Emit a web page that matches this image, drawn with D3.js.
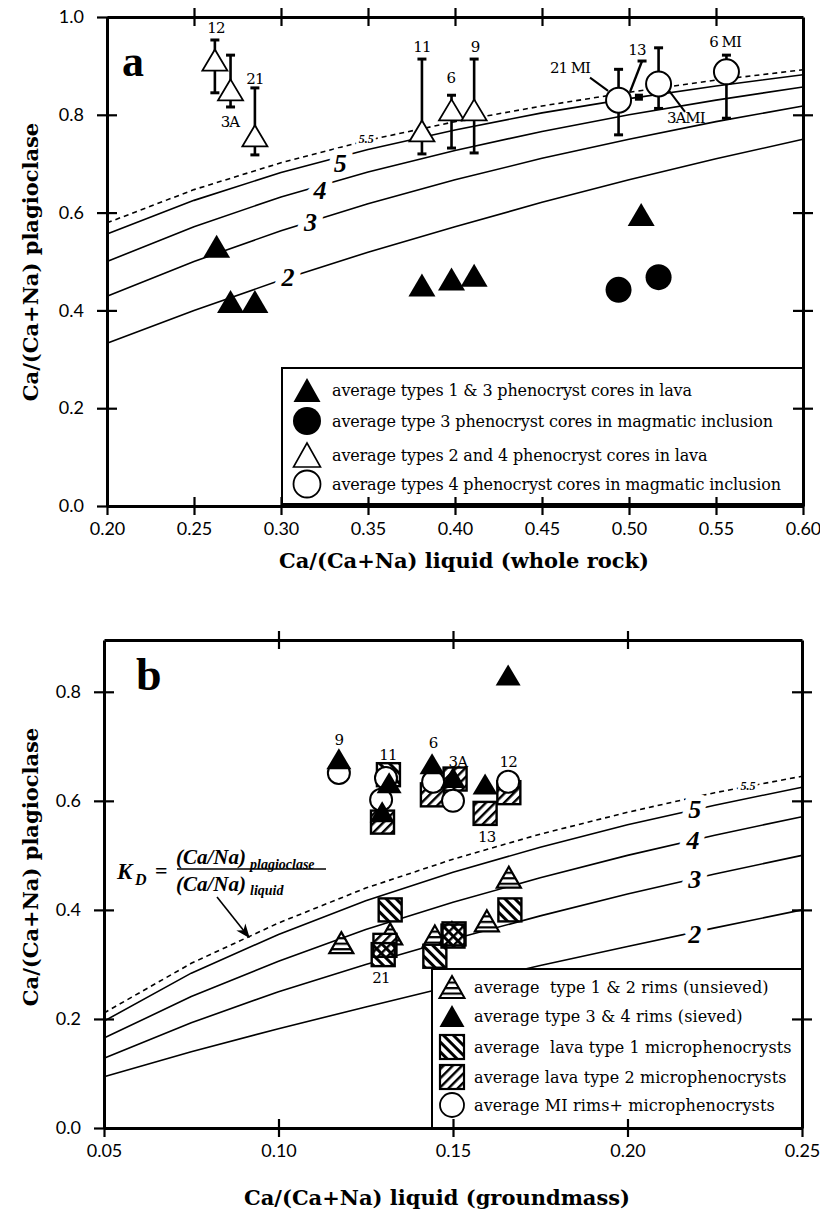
<!DOCTYPE html>
<html>
<head>
<meta charset="utf-8">
<script src="https://cdn.jsdelivr.net/npm/d3@7"></script>
<style>
  body { margin: 0; background: #fff; }
  svg { display: block; }
  .tick text { font-family: Lato, "Noto Sans", sans-serif; font-size: 18px; fill: #000; }
  .serif { font-family: "Liberation Serif", "DejaVu Serif", serif; }
  .dserif { font-family: "DejaVu Serif", "Liberation Serif", serif; }
</style>
</head>
<body>
<svg id="chart" width="820" height="1215"></svg>
<script>
// ---------------- Panel a : phenocryst cores vs whole rock ----------------
const curveXA = [0.20, 0.25, 0.30, 0.35, 0.40, 0.45, 0.50, 0.55, 0.60];
const kdA2  = [0.333, 0.400, 0.462, 0.519, 0.571, 0.621, 0.667, 0.710, 0.750];
const kdA3  = [0.429, 0.500, 0.563, 0.618, 0.667, 0.711, 0.750, 0.786, 0.818];
const kdA4  = [0.500, 0.571, 0.632, 0.683, 0.727, 0.766, 0.800, 0.830, 0.857];
const kdA5  = [0.556, 0.625, 0.682, 0.729, 0.769, 0.804, 0.833, 0.859, 0.882];
const kdA55 = [0.579, 0.647, 0.702, 0.748, 0.786, 0.818, 0.846, 0.871, 0.892];
const kdNames = ["2", "3", "4", "5", "5.5"];
const kdLabelAX = [0.304, 0.317, 0.3224, 0.334, 0.349];
const kdLabelAY = [0.468, 0.579, 0.646, 0.701, 0.751];

const coreLavaX = [0.263, 0.271, 0.285, 0.381, 0.398, 0.411, 0.507];
const coreLavaY = [0.531, 0.418, 0.418, 0.452, 0.464, 0.472, 0.596];
const coreMiX = [0.494, 0.517];
const coreMiY = [0.442, 0.468];

const core24Names = ["12", "3A", "21", "11", "6", "9"];
const core24X  = [0.262, 0.271, 0.285, 0.381, 0.398, 0.411];
const core24Y  = [0.912, 0.851, 0.757, 0.767, 0.810, 0.810];
const core24Hi = [0.953, 0.922, 0.855, 0.914, 0.840, 0.914];
const core24Lo = [0.845, 0.816, 0.718, 0.720, 0.732, 0.722];
const core24LabelX = [0.2626, 0.2707, 0.285, 0.381, 0.3977, 0.4115];
const core24LabelY = [0.967, 0.775, 0.863, 0.928, 0.865, 0.928];

const core4MiNames = ["21 MI", "3AMI", "6 MI"];
const core4MiX  = [0.494, 0.517, 0.556];
const core4MiY  = [0.830, 0.863, 0.888];
const core4MiHi = [0.893, 0.937, 0.922];
const core4MiLo = [0.759, 0.813, 0.793];
const core4MiLabelX = [0.4776, 0.5218, 0.5552];
const core4MiLabelY = [0.885, 0.783, 0.939];

// sample 13: small marker with its bar
const s13X = [0.5057, 0.5006, 0.5075];
const s13Y = [0.836, 0.847, 0.910];

const xTicksA = [0.20, 0.25, 0.30, 0.35, 0.40, 0.45, 0.50, 0.55, 0.60];
const yTicksA = [0.0, 0.2, 0.4, 0.6, 0.8, 1.0];

const legendA = [
  "average types 1 & 3 phenocryst cores in lava",
  "average type 3 phenocryst cores in magmatic inclusion",
  "average types 2 and 4 phenocryst cores in lava",
  "average types 4 phenocryst cores in magmatic inclusion"
];

// ---------------- Panel b : rims and microphenocrysts vs groundmass ----------------
const curveXB = [0.05, 0.075, 0.10, 0.125, 0.15, 0.175, 0.20, 0.225, 0.25];
const kdB2  = [0.094, 0.140, 0.182, 0.222, 0.261, 0.298, 0.333, 0.367, 0.400];
const kdB3  = [0.128, 0.193, 0.250, 0.300, 0.346, 0.389, 0.429, 0.466, 0.500];
const kdB4  = [0.165, 0.241, 0.306, 0.364, 0.414, 0.459, 0.500, 0.537, 0.571];
const kdB5  = [0.196, 0.284, 0.355, 0.417, 0.469, 0.515, 0.556, 0.592, 0.625];
const kdB55 = [0.211, 0.302, 0.376, 0.440, 0.493, 0.539, 0.579, 0.615, 0.645];
const kdLabelBX = [0.2193, 0.2193, 0.2188, 0.2193, 0.2345];
const kdLabelBY = [0.354, 0.455, 0.528, 0.5835, 0.6275];

const rimUnsievedX = [0.118, 0.132, 0.1448, 0.1497, 0.1597, 0.166];
const rimUnsievedY = [0.340, 0.356, 0.352, 0.358, 0.380, 0.460];
const rimSievedX = [0.1173, 0.1317, 0.1297, 0.144, 0.1592, 0.1658, 0.1500];
const rimSievedY = [0.677, 0.633, 0.580, 0.668, 0.631, 0.831, 0.643];
const micro1X = [0.1315, 0.132, 0.130, 0.1448, 0.150, 0.1663];
const micro1Y = [0.648, 0.400, 0.318, 0.315, 0.352, 0.400];
const micro2X = [0.1298, 0.1441, 0.1506, 0.166, 0.1592, 0.1305, 0.1503];
const micro2Y = [0.561, 0.611, 0.640, 0.615, 0.577, 0.335, 0.356];
const miRimX = [0.1173, 0.1308, 0.1294, 0.1443, 0.150, 0.1658];
const miRimY = [0.651, 0.642, 0.602, 0.635, 0.600, 0.635];

const sampleNamesB = ["9", "11", "6", "3A", "12", "13", "21"];
const sampleLabelBX = [0.1173, 0.1314, 0.1443, 0.1514, 0.1658, 0.1597, 0.1294];
const sampleLabelBY = [0.703, 0.675, 0.697, 0.662, 0.662, 0.525, 0.266];

const xTicksB = [0.05, 0.10, 0.15, 0.20, 0.25];
const yTicksB = [0.0, 0.2, 0.4, 0.6, 0.8];

const legendB = [
  "average  type 1 & 2 rims (unsieved)",
  "average type 3 & 4 rims (sieved)",
  "average  lava type 1 microphenocrysts",
  "average lava type 2 microphenocrysts",
  "average MI rims+ microphenocrysts"
];

// ---------------- scales ----------------
const xA = d3.scaleLinear().domain([0.2, 0.6]).range([107, 803]);
const yA = d3.scaleLinear().domain([0, 1]).range([506, 17]);
const xB = d3.scaleLinear().domain([0.05, 0.25]).range([104, 802]);
const yB = d3.scaleLinear().domain([0, 0.895]).range([1128, 640]);

const svg = d3.select("#chart");
svg.append("rect").attr("width", 820).attr("height", 1215).attr("fill", "#fff");

// ---------------- fill patterns ----------------
const defs = svg.append("defs");
function stripePattern(id, angle, gap, width) {
  const p = defs.append("pattern").attr("id", id)
    .attr("patternUnits", "userSpaceOnUse")
    .attr("width", gap).attr("height", gap)
    .attr("patternTransform", `rotate(${angle})`);
  p.append("rect").attr("x", 0).attr("y", 0).attr("width", width).attr("height", gap).attr("fill", "#000");
}
stripePattern("hatchBack", -45, 7, 3);   // "\\\\" stripes
stripePattern("hatchFwd", 45, 6.5, 2.4); // "////" stripes
const hp = defs.append("pattern").attr("id", "hstripes")
  .attr("patternUnits", "userSpaceOnUse").attr("width", 10).attr("height", 5.5);
hp.append("rect").attr("width", 10).attr("height", 5.5).attr("fill", "#fff");
hp.append("rect").attr("y", 0).attr("width", 10).attr("height", 2.2).attr("fill", "#000");
defs.append("marker").attr("id", "arrowHead")
  .attr("viewBox", "0 0 10 10").attr("refX", 8).attr("refY", 5)
  .attr("markerWidth", 9).attr("markerHeight", 9).attr("orient", "auto")
  .append("path").attr("d", "M0,1L10,5L0,9L3,5Z").attr("fill", "#000");

// ---------------- helpers ----------------
const tri = (w, h) => `M0,${-h / 2}L${w / 2},${h / 2}L${-w / 2},${h / 2}Z`;

function drawFrame(g, x, y, xTicks, yTicks, innerX, innerY) {
  const [xl, xr] = x.range();
  const [yb, yt] = y.range();
  const fmtX = d3.format(".2f"), fmtY = d3.format(".1f");

  const bottom = g.append("g").attr("transform", `translate(0,${yb})`)
    .call(d3.axisBottom(x).tickValues(xTicks).tickFormat(fmtX).tickSizeInner(9).tickSizeOuter(0).tickPadding(7));
  bottom.selectAll(".tick line").attr("y1", -9);

  const top = g.append("g").attr("transform", `translate(0,${yt})`)
    .call(d3.axisTop(x).tickValues(innerX).tickFormat("").tickSizeInner(9).tickSizeOuter(0));
  top.selectAll(".tick line").attr("y1", 9);

  const left = g.append("g").attr("transform", `translate(${xl},0)`)
    .call(d3.axisLeft(y).tickValues(yTicks).tickFormat(fmtY).tickSizeInner(10).tickSizeOuter(0).tickPadding(13));
  left.selectAll(".tick line").attr("x1", 10);

  const right = g.append("g").attr("transform", `translate(${xr},0)`)
    .call(d3.axisRight(y).tickValues(innerY).tickFormat("").tickSizeInner(10).tickSizeOuter(0));
  right.selectAll(".tick line").attr("x1", -10);

  [bottom, top, left, right].forEach(a => {
    a.select(".domain").attr("stroke", "#000").attr("stroke-width", 3);
    a.selectAll(".tick line").attr("stroke", "#000").attr("stroke-width", 2.2);
  });
}

function drawCurves(g, x, y, xs, series, labX, labY) {
  const line = d3.line().x((d, i) => x(xs[i])).y(d => y(d));
  series.forEach((s, k) => {
    g.append("path").attr("d", line(s)).attr("fill", "none").attr("stroke", "#000")
      .attr("stroke-width", 1.6).attr("stroke-dasharray", k === 4 ? "5,4" : null);
  });
  kdNames.forEach((n, k) => {
    g.append("text").attr("class", "serif")
      .attr("x", x(labX[k])).attr("y", y(labY[k]))
      .attr("text-anchor", "middle").attr("dominant-baseline", "central")
      .attr("font-size", k === 4 ? 12 : 26).attr("font-weight", "bold").attr("font-style", "italic")
      .attr("stroke", "#fff").attr("stroke-width", k === 4 ? 6 : 13).attr("paint-order", "stroke")
      .attr("stroke-linejoin", "round")
      .text(n);
  });
}

function errorBar(g, px, pyHi, pyLo) {
  g.append("line").attr("x1", px).attr("x2", px).attr("y1", pyHi).attr("y2", pyLo)
    .attr("stroke", "#000").attr("stroke-width", 2.6);
  [pyHi, pyLo].forEach(py => g.append("line")
    .attr("x1", px - 4.5).attr("x2", px + 4.5).attr("y1", py).attr("y2", py)
    .attr("stroke", "#000").attr("stroke-width", 3));
}

// ================= Panel a =================
const ga = svg.append("g");
drawCurves(ga, xA, yA, curveXA, [kdA2, kdA3, kdA4, kdA5, kdA55], kdLabelAX, kdLabelAY);

// error bars, then open markers on top
core24X.forEach((v, i) => errorBar(ga, xA(v), yA(core24Hi[i]), yA(core24Lo[i])));
core4MiX.forEach((v, i) => errorBar(ga, xA(v), yA(core4MiHi[i]), yA(core4MiLo[i])));

// sample 13 bar and marker
ga.append("line").attr("x1", xA(s13X[1])).attr("y1", yA(s13Y[1]))
  .attr("x2", xA(s13X[2])).attr("y2", yA(s13Y[2])).attr("stroke", "#000").attr("stroke-width", 2.4);
ga.append("line").attr("x1", xA(s13X[2]) - 4.5).attr("x2", xA(s13X[2]) + 4.5)
  .attr("y1", yA(s13Y[2])).attr("y2", yA(s13Y[2])).attr("stroke", "#000").attr("stroke-width", 3);
ga.append("rect").attr("x", xA(s13X[0]) - 4).attr("y", yA(s13Y[0]) - 3.5)
  .attr("width", 8).attr("height", 7).attr("fill", "#000");

// leader lines for MI labels
const leaders = [[0.4776, 0.876, 0.488, 0.849], [0.5218, 0.855, 0.5322, 0.806]];
leaders.forEach(l => ga.append("line")
  .attr("x1", xA(l[0])).attr("y1", yA(l[1])).attr("x2", xA(l[2])).attr("y2", yA(l[3]))
  .attr("stroke", "#000").attr("stroke-width", 2));

ga.selectAll(".ftri").data(coreLavaX).join("path")
  .attr("transform", (d, i) => `translate(${xA(d)},${yA(coreLavaY[i])})`)
  .attr("d", tri(27, 23)).attr("fill", "#000");
ga.selectAll(".fcir").data(coreMiX).join("circle")
  .attr("cx", d => xA(d)).attr("cy", (d, i) => yA(coreMiY[i])).attr("r", 13).attr("fill", "#000");
ga.selectAll(".otri").data(core24X).join("path")
  .attr("transform", (d, i) => `translate(${xA(d)},${yA(core24Y[i])})`)
  .attr("d", tri(25, 21)).attr("fill", "#fff").attr("stroke", "#000").attr("stroke-width", 1.8)
  .attr("stroke-linejoin", "miter");
ga.selectAll(".ocir").data(core4MiX).join("circle")
  .attr("cx", d => xA(d)).attr("cy", (d, i) => yA(core4MiY[i])).attr("r", 12.5)
  .attr("fill", "#fff").attr("stroke", "#000").attr("stroke-width", 2);

// sample labels
core24Names.forEach((n, i) => ga.append("text").attr("class", "dserif")
  .attr("x", xA(core24LabelX[i])).attr("y", yA(core24LabelY[i]))
  .attr("text-anchor", "middle").attr("font-size", 15).attr("letter-spacing", -0.8).text(n));
const miAnchor = ["end", "start", "middle"];
core4MiNames.forEach((n, i) => ga.append("text").attr("class", "dserif")
  .attr("x", xA(core4MiLabelX[i])).attr("y", yA(core4MiLabelY[i]))
  .attr("text-anchor", miAnchor[i]).attr("font-size", 15).attr("letter-spacing", -1).text(n));
ga.append("text").attr("class", "dserif").attr("x", xA(0.5046)).attr("y", yA(0.922))
  .attr("text-anchor", "middle").attr("font-size", 15).attr("letter-spacing", -0.8).text("13");

// panel letter
ga.append("text").attr("class", "serif").attr("x", 122).attr("y", 76)
  .attr("font-size", 44).attr("font-weight", "bold").text("a");

// legend a
const la = ga.append("g");
la.append("rect").attr("x", 282).attr("y", 368).attr("width", 521).attr("height", 136)
  .attr("fill", "#fff").attr("stroke", "#000").attr("stroke-width", 2);
const rowsA = [390, 421, 455, 484];
la.append("path").attr("transform", `translate(307,${rowsA[0]})`).attr("d", tri(27, 24)).attr("fill", "#000");
la.append("circle").attr("cx", 307).attr("cy", rowsA[1]).attr("r", 14).attr("fill", "#000");
la.append("path").attr("transform", `translate(307,${rowsA[2]})`).attr("d", tri(27, 24))
  .attr("fill", "#fff").attr("stroke", "#000").attr("stroke-width", 1.6);
la.append("circle").attr("cx", 307).attr("cy", rowsA[3]).attr("r", 13.5)
  .attr("fill", "#fff").attr("stroke", "#000").attr("stroke-width", 1.8);
legendA.forEach((t, i) => la.append("text").attr("class", "dserif")
  .attr("x", 332).attr("y", rowsA[i]).attr("dominant-baseline", "central")
  .attr("font-size", 16).attr("letter-spacing", -0.15).text(t));

drawFrame(ga, xA, yA, xTicksA, yTicksA, [0.25, 0.30, 0.35, 0.40, 0.45, 0.50, 0.55], [0.2, 0.4, 0.6, 0.8]);

ga.append("text").attr("class", "dserif").attr("x", 464).attr("y", 568)
  .attr("text-anchor", "middle").attr("font-size", 21).attr("font-weight", "bold")
  .text("Ca/(Ca+Na) liquid (whole rock)");
ga.append("text").attr("class", "dserif").attr("transform", "translate(38,262) rotate(-90)")
  .attr("text-anchor", "middle").attr("font-size", 21).attr("font-weight", "bold")
  .text("Ca/(Ca+Na) plagioclase");

// ================= Panel b =================
const gb = svg.append("g");
drawCurves(gb, xB, yB, curveXB, [kdB2, kdB3, kdB4, kdB5, kdB55], kdLabelBX, kdLabelBY);

// unsieved rims: horizontally striped triangles
gb.selectAll(".stri").data(rimUnsievedX).join("path")
  .attr("transform", (d, i) => `translate(${xB(d)},${yB(rimUnsievedY[i])})`)
  .attr("d", tri(24, 21)).attr("fill", "url(#hstripes)").attr("stroke", "#000").attr("stroke-width", 2.2);

// microphenocryst squares: white underlay, then hatching
const sq = 23;
const allSqX = micro1X.concat(micro2X), allSqY = micro1Y.concat(micro2Y);
gb.selectAll(".squnder").data(allSqX).join("rect")
  .attr("x", d => xB(d) - sq / 2).attr("y", (d, i) => yB(allSqY[i]) - sq / 2)
  .attr("width", sq).attr("height", sq).attr("fill", "#fff");
gb.selectAll(".sq1").data(micro1X).join("rect")
  .attr("x", d => xB(d) - sq / 2).attr("y", (d, i) => yB(micro1Y[i]) - sq / 2)
  .attr("width", sq).attr("height", sq).attr("fill", "url(#hatchBack)")
  .attr("stroke", "#000").attr("stroke-width", 2.4);
gb.selectAll(".sq2").data(micro2X).join("rect")
  .attr("x", d => xB(d) - sq / 2).attr("y", (d, i) => yB(micro2Y[i]) - sq / 2)
  .attr("width", sq).attr("height", sq).attr("fill", "url(#hatchFwd)")
  .attr("stroke", "#000").attr("stroke-width", 2.4);

gb.selectAll(".mic").data(miRimX).join("circle")
  .attr("cx", d => xB(d)).attr("cy", (d, i) => yB(miRimY[i])).attr("r", 11)
  .attr("fill", "#fff").attr("stroke", "#000").attr("stroke-width", 2);
gb.selectAll(".sv").data(rimSievedX).join("path")
  .attr("transform", (d, i) => `translate(${xB(d)},${yB(rimSievedY[i])})`)
  .attr("d", tri(25, 21)).attr("fill", "#000");

sampleNamesB.forEach((n, i) => gb.append("text").attr("class", "dserif")
  .attr("x", xB(sampleLabelBX[i])).attr("y", yB(sampleLabelBY[i]))
  .attr("text-anchor", "middle").attr("font-size", 15).attr("letter-spacing", -0.8).text(n));

// partition coefficient definition
const kd = gb.append("g").attr("class", "serif").attr("font-weight", "bold").attr("font-style", "italic");
kd.append("text").attr("x", 117).attr("y", 879).attr("font-size", 23).text("K");
kd.append("text").attr("x", 135).attr("y", 885).attr("font-size", 16).text("D");
kd.append("text").attr("x", 155).attr("y", 878).attr("font-size", 22).attr("font-style", "normal").text("=");
kd.append("text").attr("x", 176).attr("y", 864).attr("font-size", 21).text("(Ca/Na)");
kd.append("text").attr("x", 250).attr("y", 869).attr("font-size", 14).text("plagioclase");
kd.append("line").attr("x1", 177).attr("x2", 326).attr("y1", 869).attr("y2", 869)
  .attr("stroke", "#000").attr("stroke-width", 1.5);
kd.append("text").attr("x", 176).attr("y", 891).attr("font-size", 21).text("(Ca/Na)");
kd.append("text").attr("x", 250).attr("y", 895).attr("font-size", 14).text("liquid");
gb.append("line").attr("x1", 217).attr("y1", 897).attr("x2", 248).attr("y2", 936)
  .attr("stroke", "#000").attr("stroke-width", 1.6).attr("marker-end", "url(#arrowHead)");

gb.append("text").attr("class", "serif").attr("x", 136).attr("y", 690)
  .attr("font-size", 46).attr("font-weight", "bold").text("b");

// legend b
const lb = gb.append("g");
lb.append("rect").attr("x", 432).attr("y", 969).attr("width", 370).attr("height", 159)
  .attr("fill", "#fff").attr("stroke", "#000").attr("stroke-width", 2);
const rowsB = [987, 1016, 1047, 1077, 1105];
const lx = 452;
lb.append("path").attr("transform", `translate(${lx},${rowsB[0]})`).attr("d", tri(25, 22))
  .attr("fill", "url(#hstripes)").attr("stroke", "#000").attr("stroke-width", 2);
lb.append("path").attr("transform", `translate(${lx},${rowsB[1]})`).attr("d", tri(25, 22)).attr("fill", "#000");
lb.append("rect").attr("x", lx - 12).attr("y", rowsB[2] - 12).attr("width", 24).attr("height", 24)
  .attr("fill", "url(#hatchBack)").attr("stroke", "#000").attr("stroke-width", 2.2);
lb.append("rect").attr("x", lx - 12).attr("y", rowsB[3] - 12).attr("width", 24).attr("height", 24)
  .attr("fill", "url(#hatchFwd)").attr("stroke", "#000").attr("stroke-width", 2.2);
lb.append("circle").attr("cx", lx).attr("cy", rowsB[4]).attr("r", 12)
  .attr("fill", "#fff").attr("stroke", "#000").attr("stroke-width", 1.8);
legendB.forEach((t, i) => lb.append("text").attr("class", "dserif")
  .attr("x", 474).attr("y", rowsB[i]).attr("dominant-baseline", "central")
  .attr("font-size", 16).attr("letter-spacing", 0.1).style("white-space", "pre").text(t));

drawFrame(gb, xB, yB, xTicksB, yTicksB, [0.10, 0.15, 0.20], [0.2, 0.4, 0.6, 0.8]);

gb.append("text").attr("class", "dserif").attr("x", 437).attr("y", 1205)
  .attr("text-anchor", "middle").attr("font-size", 21).attr("font-weight", "bold")
  .text("Ca/(Ca+Na) liquid (groundmass)");
gb.append("text").attr("class", "dserif").attr("transform", "translate(38,867) rotate(-90)")
  .attr("text-anchor", "middle").attr("font-size", 21).attr("font-weight", "bold")
  .text("Ca/(Ca+Na) plagioclase");
</script>
</body>
</html>
